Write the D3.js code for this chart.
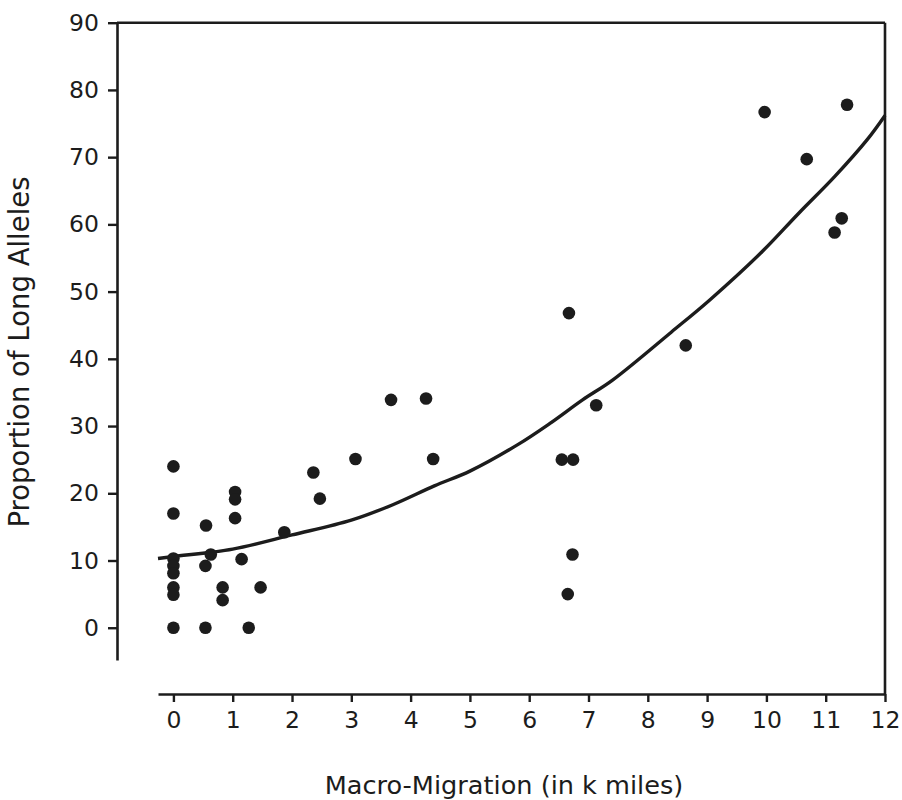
<!DOCTYPE html>
<html>
<head>
<meta charset="utf-8">
<script src="https://cdn.jsdelivr.net/npm/d3@7"></script>
<style>
  html, body { margin: 0; padding: 0; background: #fff; }
  svg { display: block; }
  text { font-family: "DejaVu Sans", sans-serif; fill: #1c1c1c; }
</style>
</head>
<body>
<svg id="chart" width="902" height="800"></svg>
<script>
// ---- data ----
const migrationX = [0, 0, 0, 0, 0, 0, 0, 0,
  0.55, 0.63, 0.54, 0.54,
  1.04, 1.04, 1.04, 1.15, 0.83, 0.83, 1.47, 1.27,
  1.87, 2.36, 2.47, 3.07, 3.67, 4.26, 4.38,
  6.67, 8.64, 7.13, 6.55, 6.74, 6.73, 6.65,
  9.97, 11.36, 10.68, 11.27, 11.15];
const longAlleles = [24, 17, 10.3, 9.2, 8.1, 6.0, 4.9, 0,
  15.2, 10.9, 9.2, 0,
  20.2, 19.1, 16.3, 10.2, 6.0, 4.1, 6.0, 0,
  14.2, 23.1, 19.2, 25.1, 33.9, 34.1, 25.1,
  46.8, 42.0, 33.1, 25.0, 25.0, 10.9, 5.0,
  76.7, 77.8, 69.7, 60.9, 58.8];
// fitted curve as drawn in the reference
const curveX = [-0.26, 0, 1, 2, 3, 3.7, 4.4, 5, 5.8, 6.35, 6.9, 7.4, 8.4, 9.05, 9.9, 10.55, 11.15, 11.7, 12];
const curveY = [10.3, 10.6, 11.7, 13.8, 16.0, 18.3, 21.1, 23.3, 27.2, 30.4, 33.9, 36.8, 44.0, 48.8, 55.7, 61.7, 67.1, 72.6, 76.2];
const xTicks = [0, 1, 2, 3, 4, 5, 6, 7, 8, 9, 10, 11, 12];
const yTicks = [0, 10, 20, 30, 40, 50, 60, 70, 80, 90];
const xTitle = "Macro-Migration (in k miles)";
const yTitle = "Proportion of Long Alleles";

// ---- drawing ----
const ink = "#1c1c1c";
const svg = d3.select("#chart");
const x = d3.scaleLinear().domain([-0.26, 12]).range([158, 885]);
const y = d3.scaleLinear().domain([-4.8, 90]).range([660, 22.7]);
const yAxisX = 117;
const xAxisY = 694;

// frame: top and right lines
svg.append("line")
  .attr("x1", yAxisX).attr("x2", x(12))
  .attr("y1", y(90)).attr("y2", y(90))
  .attr("stroke", ink).attr("stroke-width", 2.6);
svg.append("line")
  .attr("x1", x(12)).attr("x2", x(12))
  .attr("y1", y(90)).attr("y2", xAxisY)
  .attr("stroke", ink).attr("stroke-width", 2.6);

// y axis
const gy = svg.append("g")
  .attr("transform", `translate(${yAxisX},0)`)
  .call(d3.axisLeft(y).tickValues(yTicks).tickSize(9).tickSizeOuter(0).tickPadding(10));
// x axis
const gx = svg.append("g")
  .attr("transform", `translate(0,${xAxisY})`)
  .call(d3.axisBottom(x).tickValues(xTicks).tickSize(8).tickSizeOuter(0).tickPadding(10));

[gx, gy].forEach(g => {
  g.select(".domain").attr("stroke", ink).attr("stroke-width", 2.6);
  g.selectAll(".tick line").attr("stroke", ink).attr("stroke-width", 2.4);
  g.selectAll(".tick text")
    .attr("fill", ink)
    .style("font-family", '"DejaVu Sans", sans-serif')
    .style("font-size", "23.5px");
});
gy.selectAll(".tick text").attr("x", -18);
gx.selectAll(".tick text").attr("y", 17);

// fitted curve
svg.append("path")
  .datum(curveX.map((v, i) => [v, curveY[i]]))
  .attr("fill", "none")
  .attr("stroke", ink)
  .attr("stroke-width", 3.4)
  .attr("stroke-linejoin", "round")
  .attr("d", d3.line().x(d => x(d[0])).y(d => y(d[1])).curve(d3.curveCatmullRom));

// points
svg.append("g").selectAll("circle")
  .data(migrationX.map((v, i) => [v, longAlleles[i]]))
  .join("circle")
  .attr("cx", d => x(d[0]))
  .attr("cy", d => y(d[1]))
  .attr("r", 6.3)
  .attr("fill", ink);

// axis titles
svg.append("text")
  .attr("x", 504).attr("y", 794)
  .attr("text-anchor", "middle")
  .style("font-size", "25.6px")
  .text(xTitle);
svg.append("text")
  .attr("transform", "translate(29,352) rotate(-90)")
  .attr("text-anchor", "middle")
  .style("font-size", "27.5px")
  .text(yTitle);
</script>
</body>
</html>
